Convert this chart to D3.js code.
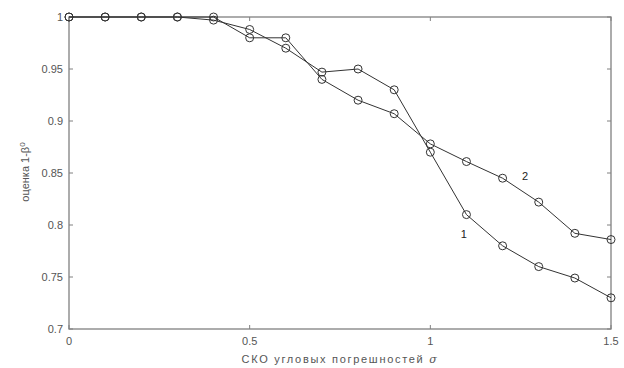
<!DOCTYPE html>
<html>
<head>
<meta charset="utf-8">
<script src="https://cdn.jsdelivr.net/npm/d3@7"></script>
<style>
  body { margin: 0; background: #fff; }
  svg { display: block; }
  .tick-label { font-family: "Liberation Sans", Arial, sans-serif; font-size: 11px; fill: #555; }
</style>
</head>
<body>
<svg></svg>
<script>
var w = 624, h = 368;

// sigma values on x axis
var sigma = [0, 0.1, 0.2, 0.3, 0.4, 0.5, 0.6, 0.7, 0.8, 0.9, 1.0, 1.1, 1.2, 1.3, 1.4, 1.5];
// curve 1 and curve 2 (estimate 1-beta0)
var curve1 = [1, 1, 1, 1, 0.997, 0.988, 0.97, 0.947, 0.95, 0.93, 0.87, 0.81, 0.78, 0.76, 0.749, 0.73];
var curve2 = [1, 1, 1, 1, 1, 0.98, 0.98, 0.94, 0.92, 0.907, 0.878, 0.861, 0.845, 0.822, 0.792, 0.786];
var xTicks = [0, 0.5, 1, 1.5];
var yTicks = [0.7, 0.75, 0.8, 0.85, 0.9, 0.95, 1];
var xTitle = "СКО угловых погрешностей ";
var yTitle = "оценка 1-β";

var pLeft = 69, pRight = 611, pTop = 17, pBottom = 329;

var svg = d3.select("svg").attr("width", w).attr("height", h);

var x = d3.scaleLinear().domain([0, 1.5]).range([pLeft, pRight]);
var y = d3.scaleLinear().domain([0.7, 1]).range([pBottom, pTop]);

var axisColor = "#808080";
var tl = 4;

// box
svg.append("rect")
    .attr("x", pLeft).attr("y", pTop)
    .attr("width", pRight - pLeft).attr("height", pBottom - pTop)
    .attr("fill", "none").attr("stroke", axisColor).attr("stroke-width", 1.3);

// ticks, all pointing inward
var g = svg.append("g");
xTicks.forEach(function (t) {
    g.append("line").attr("x1", x(t)).attr("x2", x(t)).attr("y1", pBottom).attr("y2", pBottom - tl).attr("stroke", axisColor);
    g.append("line").attr("x1", x(t)).attr("x2", x(t)).attr("y1", pTop).attr("y2", pTop + tl).attr("stroke", axisColor);
    g.append("text").attr("class", "tick-label")
        .attr("x", x(t)).attr("y", pBottom + 16)
        .attr("text-anchor", "middle")
        .text(d3.format("")(t));
});
yTicks.forEach(function (t) {
    g.append("line").attr("x1", pLeft).attr("x2", pLeft + tl).attr("y1", y(t)).attr("y2", y(t)).attr("stroke", axisColor);
    g.append("line").attr("x1", pRight).attr("x2", pRight - tl).attr("y1", y(t)).attr("y2", y(t)).attr("stroke", axisColor);
    g.append("text").attr("class", "tick-label")
        .attr("x", pLeft - 6).attr("y", y(t) + 4)
        .attr("text-anchor", "end")
        .text(d3.format("")(t));
});

// axis titles
var xt = svg.append("text").attr("class", "tick-label")
    .attr("x", (pLeft + pRight) / 2).attr("y", 363)
    .attr("font-size", 12).attr("letter-spacing", 1.7)
    .attr("text-anchor", "middle");
xt.append("tspan").text(xTitle);
xt.append("tspan").attr("font-family", "DejaVu Serif").attr("font-style", "italic").text("σ");

var yt = svg.append("text").attr("class", "tick-label")
    .attr("transform", "translate(29,172) rotate(-90)")
    .attr("text-anchor", "middle");
yt.append("tspan").text(yTitle);
yt.append("tspan").attr("dy", -4).attr("font-size", 8).text("0");

// curves
var line = d3.line().x(function (d) { return x(d[0]); }).y(function (d) { return y(d[1]); });

[curve1, curve2].forEach(function (c) {
    var pts = sigma.map(function (s, i) { return [s, c[i]]; });
    svg.append("path")
        .datum(pts)
        .attr("d", line)
        .attr("fill", "none")
        .attr("stroke", "#333")
        .attr("stroke-width", 1);
    svg.selectAll(null)
        .data(pts)
        .enter().append("circle")
        .attr("cx", function (d) { return x(d[0]); })
        .attr("cy", function (d) { return y(d[1]); })
        .attr("r", 4)
        .attr("fill", "none")
        .attr("stroke", "#333")
        .attr("stroke-width", 1);
});

// curve labels
svg.append("text").attr("class", "tick-label").style("fill", "#222")
    .attr("x", x(1.093)).attr("y", y(0.791) + 4).attr("text-anchor", "middle").text("1");
svg.append("text").attr("class", "tick-label").style("fill", "#222")
    .attr("x", x(1.262)).attr("y", y(0.847) + 4).attr("text-anchor", "middle").text("2");
</script>
</body>
</html>
